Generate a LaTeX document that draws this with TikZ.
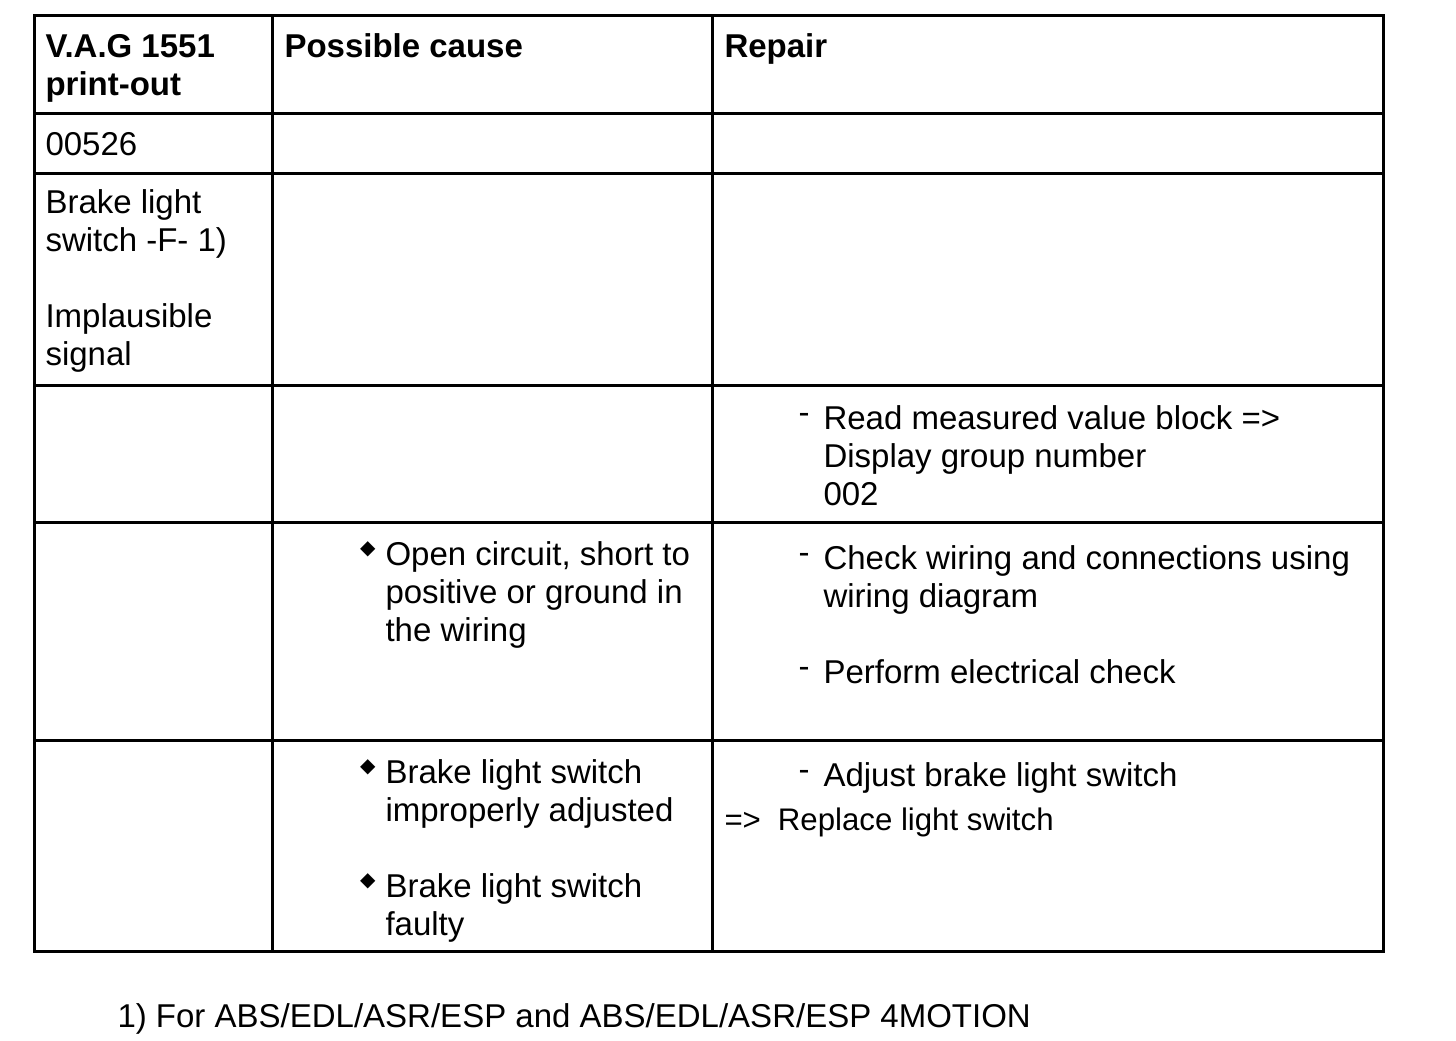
\documentclass[tikz,border=0pt]{standalone}
\usepackage{fontspec}
\setmainfont{Liberation Sans}
\newfontfamily\symfont{DejaVu Sans}
\usetikzlibrary{positioning}
% list markers hanging left of the text
\def\bul{\llap{\raisebox{5.5pt}{\symfont\fontsize{10}{10}\selectfont ◆}\hspace{5pt}}}
\def\dsh{\llap{\raisebox{3pt}{-}\hspace{7pt}}}

\begin{document}
\begin{tikzpicture}[x=0.5pt,y=-0.5pt,line width=1.5pt,
    cell/.style={anchor=base west,inner sep=0pt,align=left,
      font=\fontsize{16.5}{19}\selectfont},
    head/.style={cell,font=\fontsize{16.5}{19}\selectfont\bfseries}]
  \useasboundingbox (0,0) rectangle (1456,1040);
  % Frame and grid of the table
  \draw (34,15) rectangle (1383,951);
  \foreach \y in {113,173,385,522,740}
    \draw (34,\y) -- (1383,\y);
  \foreach \x in {272,712}
    \draw (\x,15) -- (\x,951);
  % Header row (nodes sit on the baseline of their last line)
  \node[head] (vag) at (44,95) {V.A.G 1551\\print-out};
  \node[head] (cause) at (283,57) {Possible cause};
  \node[head] (repair) at (723,57) {Repair};
  % Fault code
  \node[cell] (code) at (44,155) {00526};
  \node[cell] (fault) at (44,365) {Brake light\\switch -F- 1)\\[19pt]Implausible\\signal};
  % Measured value block
  \node[cell] (mvb) at (822,505) {\dsh Read measured value block =>\\Display group number\\002};
  % Wiring
  \node[cell] (open) at (384,641) {\bul Open circuit, short to\\positive or ground in\\the wiring};
  \node[cell] (wiring) at (822,683) {\dsh Check wiring and connections using\\wiring diagram\\[19pt]\dsh Perform electrical check};
  % Switch
  \node[cell] (adjusted) at (384,935) {\bul Brake light switch\\improperly adjusted\\[19pt]\bul Brake light switch\\faulty};
  \node[cell] (adjust) at (822,786) {\dsh Adjust brake light switch};
  \node[cell,font=\fontsize{15.6}{18}\selectfont] (replace) at (723,830) {=>\hspace{8.5pt}Replace light switch};
  % Footnote
  \node[cell] (note) at (116,1027) {1) For ABS/EDL/ASR/ESP and ABS/EDL/ASR/ESP 4MOTION};
\end{tikzpicture}
\end{document}
